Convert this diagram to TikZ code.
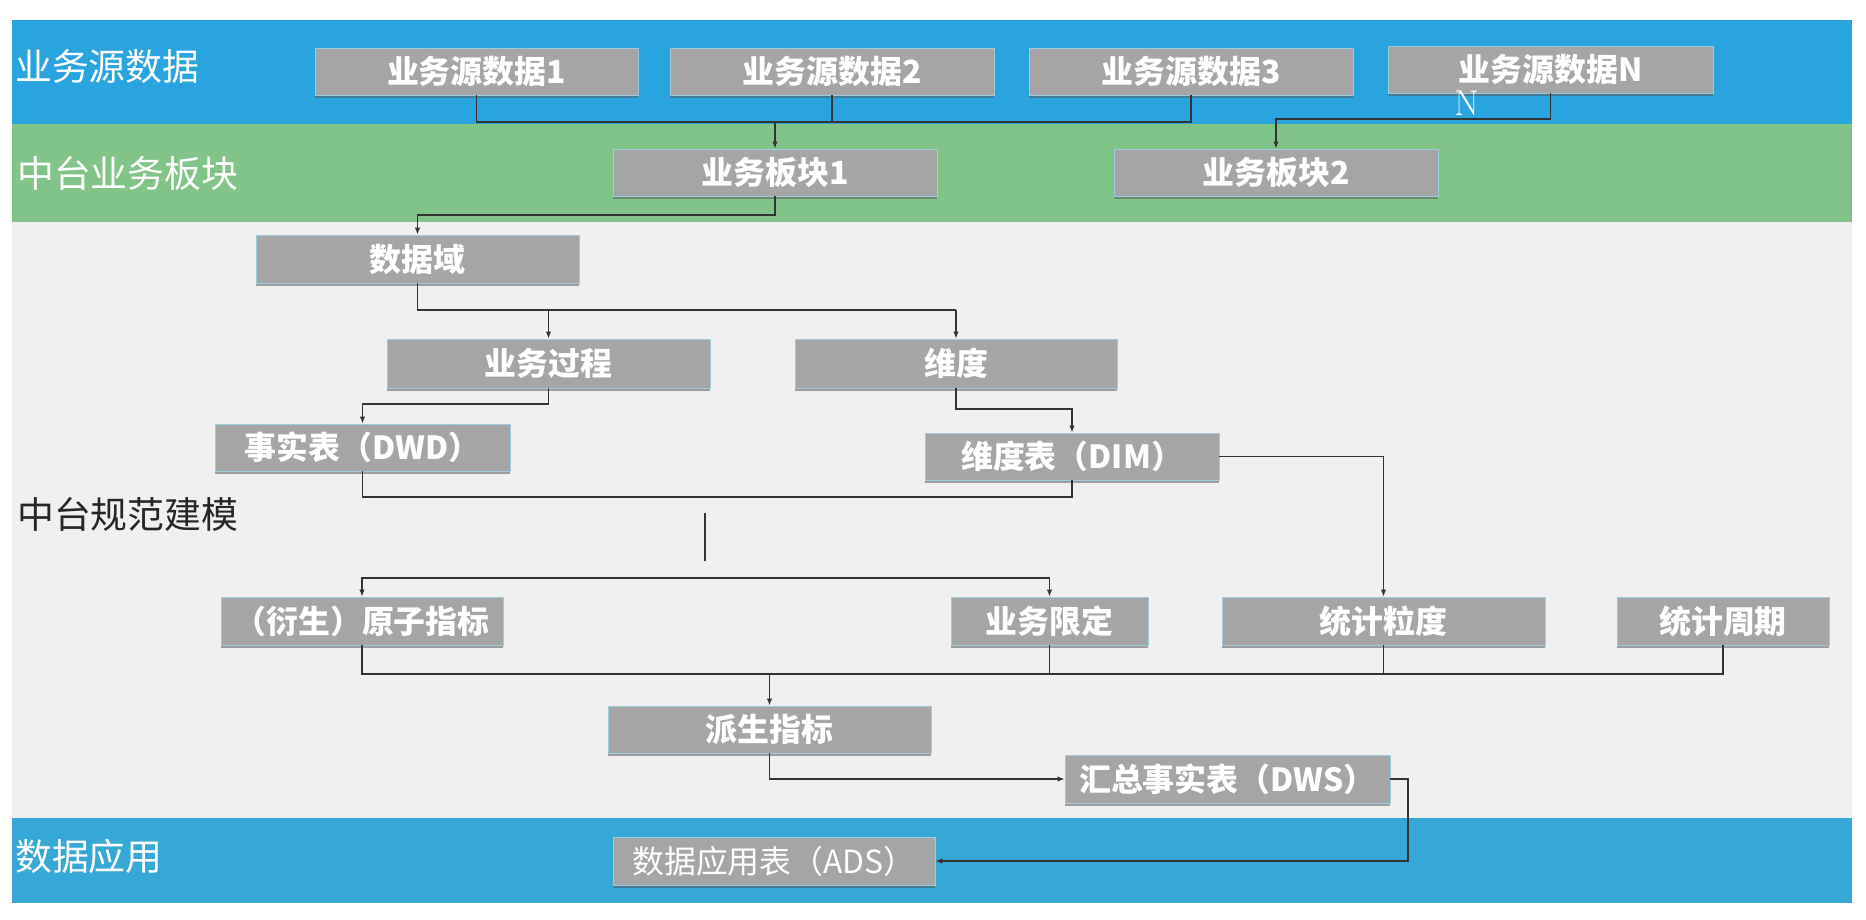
\documentclass[tikz,border=0pt]{standalone}
\usepackage{fontspec}
\newfontfamily\cjk{Noto Sans CJK SC}
\usetikzlibrary{arrows.meta,shadows}
\definecolor{topblue}{HTML}{2AA4DF}
\definecolor{midgreen}{HTML}{80C488}
\definecolor{bggray}{HTML}{F0F0F0}
\definecolor{botblue}{HTML}{36A8D5}
\definecolor{boxgray}{HTML}{A5A5A5}
\definecolor{boxedge}{HTML}{9CCCDD}
\definecolor{linecol}{HTML}{333333}
\tikzset{
  box/.style={fill=boxgray, draw=boxedge, line width=0.8bp, minimum height=47bp,
    inner sep=0pt, text=white, font=\cjk\bfseries\fontsize{32}{34}\selectfont,
    drop shadow={shadow xshift=0bp, shadow yshift=-3bp, opacity=0.55, fill=black!65}},
  lightbox/.style={box, font=\cjk\fontsize{32}{34}\selectfont},
  band/.style={anchor=west, inner sep=0pt, font=\cjk\fontsize{37}{40}\selectfont},
  conn/.style={draw=linecol, line width=1.6bp},
  arr/.style={conn, -{Latex[length=7bp,width=5.5bp]}},
}
\begin{document}
\begin{tikzpicture}[x=1bp,y=-1bp]
\useasboundingbox (0,0) rectangle (1866,920);
\fill[white] (0,0) rectangle (1866,920);
% bands
\fill[topblue] (12,20) rectangle (1852,124);
\fill[midgreen] (12,124) rectangle (1852,222);
\fill[bggray] (12,222) rectangle (1852,818);
\fill[botblue] (12,818) rectangle (1852,903);
% band labels
\node[band, text=white] (l1) at (15,67) {业务源数据};
\node[band, text=white] (l2) at (17,173) {中台业务板块};
\node[band, text=black!85] (l3) at (17,514) {中台规范建模};
\node[band, text=white] (l4) at (15,856) {数据应用};
% boxes
\node[box, minimum width=323bp] (s1) at (476.5,71.5) {业务源数据1};
\node[box, minimum width=324bp] (s2) at (832,71.5) {业务源数据2};
\node[box, minimum width=324bp] (s3) at (1191,71.5) {业务源数据3};
\node[box, minimum width=325bp] (sN) at (1550.5,69.5) {业务源数据N};
\node[inner sep=0pt, text=white, font=\fontsize{36}{38}\selectfont] (nx) at (1467,103) {N};
\node[box, minimum width=324bp] (b1) at (775,172.5) {业务板块1};
\node[box, minimum width=324bp] (b2) at (1276,172.5) {业务板块2};
\node[box, minimum width=323bp, minimum height=48bp] (dom) at (417.5,259) {数据域};
\node[box, minimum width=323bp, minimum height=49bp] (proc) at (548.5,363.5) {业务过程};
\node[box, minimum width=322bp, minimum height=49bp] (dim) at (956,363.5) {维度};
\node[box, minimum width=295bp] (fact) at (362.5,447.5) {事实表（DWD）};
\node[box, minimum width=294bp] (dimt) at (1072,456.5) {维度表（DIM）};
\node[box, minimum width=282bp, minimum height=48bp] (atom) at (362,621) {（衍生）原子指标};
\node[box, minimum width=197bp, minimum height=48bp] (lim) at (1049.5,621) {业务限定};
\node[box, minimum width=323bp, minimum height=48bp] (gran) at (1383.5,621) {统计粒度};
\node[box, minimum width=212bp, minimum height=48bp] (per) at (1723,621) {统计周期};
\node[box, minimum width=323bp] (der) at (769.5,729.5) {派生指标};
\node[box, minimum width=325bp, minimum height=48bp] (dws) at (1227.5,779) {汇总事实表（DWS）};
\node[lightbox, minimum width=322bp, minimum height=48bp] (ads) at (774,861) {数据应用表（ADS）};
% helper coordinates
\coordinate (ya) at (0,122);
\coordinate (yb) at (0,119);
\coordinate (yc) at (0,215);
\coordinate (yd) at (0,310);
\coordinate (ye) at (0,404);
\coordinate (yf) at (0,409);
\coordinate (yg) at (0,497);
\coordinate (yh) at (0,578);
\coordinate (yi) at (0,674);
\coordinate (xr) at (1408,0);
\coordinate (v1) at (705,513);
\coordinate (v2) at (705,561);
% connectors
\draw[conn] (s1.south) |- (s3.south |- ya) -- (s3.south);
\draw[conn] (s2.south) -- (s2.south |- ya);
\draw[arr] (b1.north |- ya) -- (b1.north);
\draw[arr] (sN.south) |- (b2.north |- yb) -- (b2.north);
\draw[arr] (b1.south) |- (dom.north |- yc) -- (dom.north);
\draw[conn] (dom.south) |- (dim.north |- yd);
\draw[arr] (proc.north |- yd) -- (proc.north);
\draw[arr] (dim.north |- yd) -- (dim.north);
\draw[arr] (proc.south) |- (fact.north |- ye) -- (fact.north);
\draw[arr] (dim.south) |- (dimt.north |- yf) -- (dimt.north);
\draw[conn] (fact.south) |- (dimt.south |- yg) -- (dimt.south);
\draw[arr] (dimt.east) -| (gran.north);
\draw[conn] (v1) -- (v2);
\draw[conn, {Latex[length=7bp,width=5.5bp]}-{Latex[length=7bp,width=5.5bp]}] (atom.north) |- (lim.north |- yh) -- (lim.north);
\draw[conn] (atom.south) |- (per.south |- yi) -- (per.south);
\draw[conn] (lim.south) -- (lim.south |- yi);
\draw[conn] (gran.south) -- (gran.south |- yi);
\draw[arr] (der.north |- yi) -- (der.north);
\draw[arr] (der.south) |- (dws.west);
\draw[arr] (dws.east) -- (dws.east -| xr) |- (ads.east);
\end{tikzpicture}
\end{document}
